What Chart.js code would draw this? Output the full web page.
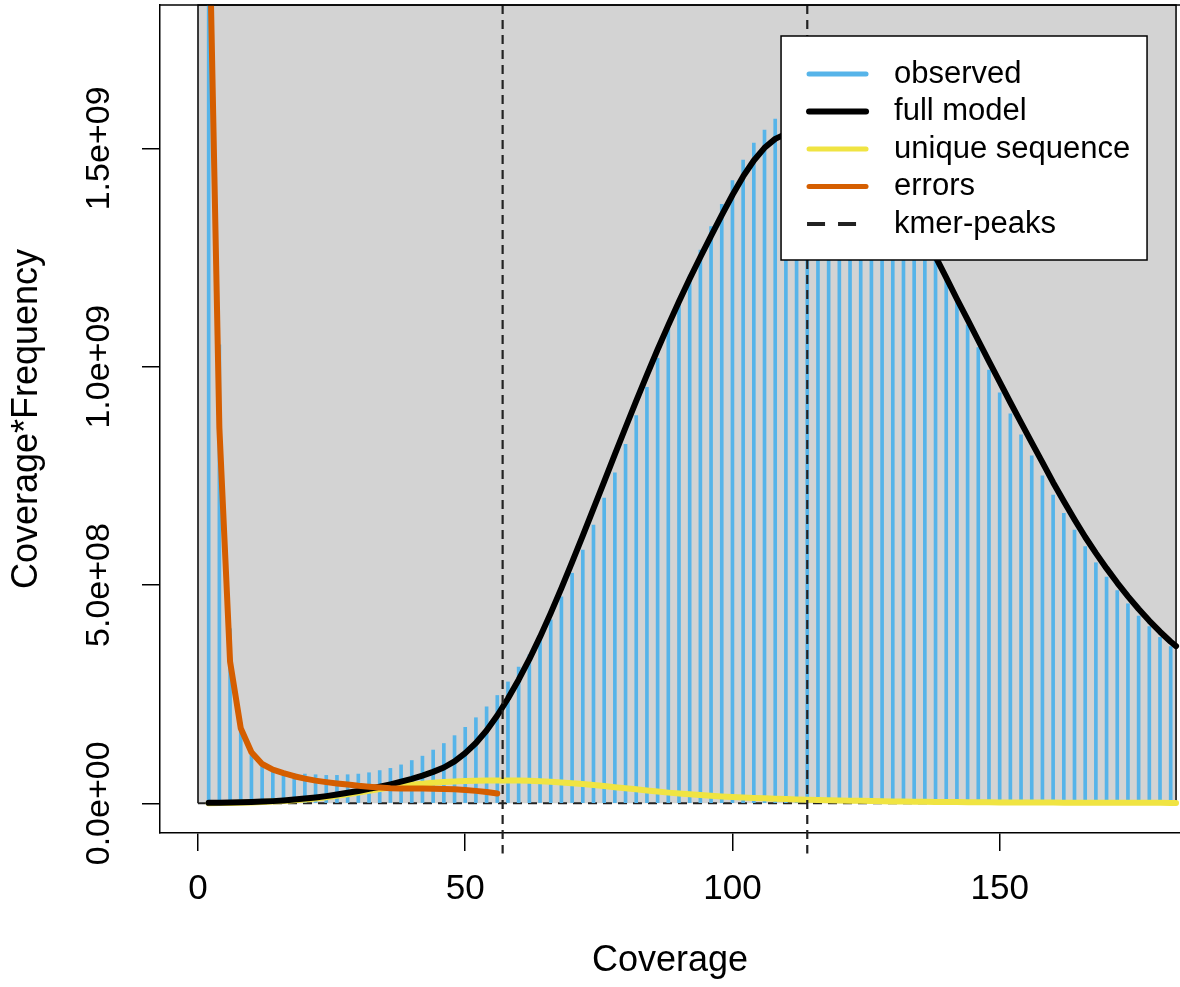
<!DOCTYPE html>
<html>
<head>
<meta charset="utf-8">
<script src="https://cdn.jsdelivr.net/npm/chart.js@4/dist/chart.umd.min.js"></script>
<style>
html,body{margin:0;padding:0;background:#fff;overflow:hidden}
#wrap{width:1180px;height:987px;position:relative}
canvas{display:block}
</style>
</head>
<body>
<div id="wrap"><canvas id="c" width="1180" height="987" style="width:1180px;height:987px"></canvas></div>
<script>
// ---------- data ----------
const coverage = [2,4,6,8,10,12,14,16,18,20,22,24,26,28,30,32,34,36,38,40,42,44,46,48,50,52,54,56,58,60,62,64,66,68,70,72,74,76,78,80,82,84,86,88,90,92,94,96,98,100,102,104,106,108,110,112,114,116,118,120,122,124,126,128,130,132,134,136,138,140,142,144,146,148,150,152,154,156,158,160,162,164,166,168,170,172,174,176,178,180,182];
const observed = [2.5e9,1.05e9,4.0e8,1.85e8,1.10e8,8.4e7,7.3e7,6.9e7,6.8e7,6.7e7,6.55e7,6.4e7,6.4e7,6.55e7,6.7e7,7.0e7,7.5e7,8.0e7,8.8e7,9.8e7,1.08e8,1.22e8,1.37e8,1.55e8,1.74e8,1.96e8,2.21e8,2.47e8,2.78e8,3.12e8,3.40e8,3.74e8,4.20e8,4.73e8,5.27e8,5.80e8,6.37e8,6.99e8,7.57e8,8.22e8,8.88e8,9.53e8,1.019e9,1.086e9,1.149e9,1.210e9,1.267e9,1.321e9,1.372e9,1.426e9,1.473e9,1.512e9,1.542e9,1.567e9,1.575e9,1.578e9,1.575e9,1.570e9,1.560e9,1.545e9,1.525e9,1.502e9,1.475e9,1.445e9,1.412e9,1.377e9,1.340e9,1.300e9,1.255e9,1.199e9,1.149e9,1.096e9,1.044e9,9.92e8,9.40e8,8.92e8,8.44e8,7.96e8,7.50e8,7.06e8,6.64e8,6.26e8,5.88e8,5.51e8,5.18e8,4.87e8,4.57e8,4.29e8,4.05e8,3.80e8,3.59e8];

const modelCoverage = [2,4,6,8,10,12,14,16,18,20,22,24,26,28,30,32,34,36,38,40,42,44,46,48,50,52,54,56,58,60,62,64,66,68,70,72,74,76,78,80,82,84,86,88,90,92,94,96,98,100,102,104,106,108,110,112,114,116,118,120,122,124,126,128,130,132,134,136,138,140,142,144,146,148,150,152,154,156,158,160,162,164,166,168,170,172,174,176,178,180,182,183];
const fullModel = [1.0e6,1.5e6,2.0e6,2.5e6,3.0e6,4.0e6,5.0e6,6.5e6,8.5e6,1.1e7,1.35e7,1.65e7,2.0e7,2.4e7,2.8e7,3.3e7,3.8e7,4.35e7,4.95e7,5.6e7,6.35e7,7.2e7,8.2e7,9.6e7,1.15e8,1.38e8,1.666e8,2.011e8,2.401e8,2.831e8,3.301e8,3.811e8,4.356e8,4.929e8,5.524e8,6.133e8,6.75e8,7.37e8,7.99e8,8.607e8,9.216e8,9.813e8,1.0393e9,1.0953e9,1.1493e9,1.2013e9,1.2513e9,1.2998e9,1.3473e9,1.3933e9,1.4358e9,1.4723e9,1.5013e9,1.5218e9,1.5333e9,1.5368e9,1.5353e9,1.5303e9,1.5218e9,1.5100e9,1.4948e9,1.4763e9,1.4544e9,1.4291e9,1.4004e9,1.3684e9,1.3329e9,1.2942e9,1.2520e9,1.2040e9,1.1550e9,1.108e9,1.060e9,1.012e9,9.65e8,9.18e8,8.72e8,8.26e8,7.81e8,7.35e8,6.92e8,6.50e8,6.10e8,5.73e8,5.38e8,5.05e8,4.74e8,4.45e8,4.18e8,3.93e8,3.70e8,3.60e8];
const uniqueSequence = [2e5,5e5,9e5,1.4e6,2.1e6,3.0e6,4.0e6,5.2e6,6.8e6,8.6e6,1.1e7,1.4e7,1.7e7,2.05e7,2.45e7,2.85e7,3.25e7,3.6e7,3.95e7,4.25e7,4.5e7,4.7e7,4.88e7,5.0e7,5.1e7,5.18e7,5.22e7,5.25e7,5.25e7,5.22e7,5.15e7,5.05e7,4.93e7,4.78e7,4.6e7,4.4e7,4.18e7,3.95e7,3.7e7,3.45e7,3.2e7,2.95e7,2.7e7,2.45e7,2.25e7,2.05e7,1.88e7,1.72e7,1.58e7,1.45e7,1.34e7,1.24e7,1.15e7,1.06e7,9.8e6,9.0e6,8.3e6,7.7e6,7.1e6,6.6e6,6.1e6,5.6e6,5.2e6,4.8e6,4.4e6,4.1e6,3.8e6,3.5e6,3.2e6,3.0e6,2.8e6,2.6e6,2.4e6,2.2e6,2.1e6,2.0e6,1.9e6,1.8e6,1.7e6,1.6e6,1.5e6,1.4e6,1.35e6,1.3e6,1.25e6,1.2e6,1.15e6,1.1e6,1.05e6,1.0e6,9.5e5,9.3e5];

const errorCoverage = [2,4,6,8,10,12,14,16,18,20,22,24,26,28,30,32,34,36,38,40,42,44,46,48,50,52,54,56];
const errors = [2.1e9,8.6e8,3.25e8,1.72e8,1.17e8,9.0e7,7.7e7,6.9e7,6.2e7,5.65e7,5.2e7,4.85e7,4.55e7,4.3e7,4.0e7,3.8e7,3.6e7,3.45e7,3.4e7,3.4e7,3.4e7,3.35e7,3.3e7,3.2e7,3.05e7,2.85e7,2.6e7,2.25e7];

const kmerPeaks = [57, 114];
const peakLineSpan = [-1.15e8, 1.8284e9];

const xTicks = [0, 50, 100, 150];
const yTicks = [0, 5e8, 1e9, 1.5e9];
const yTickLabels = ["0.0e+00", "5.0e+08", "1.0e+09", "1.5e+09"];
const xLimits = [-7.108, 183.74];
const yLimits = [-6.8e7, 1.8284e9];
const coverageMax = 183;

// ---------- styles ----------
const FONT = '"Liberation Sans", Arial, Helvetica, sans-serif';
const BLUE = '#56B4E9', YELLOW = '#F0E442', ORANGE = '#D55E00', BLACK = '#000000';

const pts = (xs, ys) => xs.map((x, i) => ({x: x, y: ys[i]}));
const peakData = [];
kmerPeaks.forEach((p, i) => {
  if (i > 0) peakData.push({x: p, y: null});
  peakData.push({x: p, y: peakLineSpan[1]});
  peakData.push({x: p, y: peakLineSpan[0]});
});

// background plugin: grey panel + dashed zero line
const panelPlugin = {
  id: 'panel',
  beforeDatasetsDraw(chart) {
    const {ctx, chartArea} = chart;
    const xs = chart.scales.x, ys = chart.scales.y;
    const x0 = xs.getPixelForValue(0), x1 = xs.getPixelForValue(coverageMax);
    const y0 = ys.getPixelForValue(0), yt = chartArea.top;
    ctx.save();
    ctx.fillStyle = '#D3D3D3';
    ctx.fillRect(x0, yt, x1 - x0, y0 - yt);
    ctx.strokeStyle = '#000';
    ctx.lineWidth = 1.5;
    ctx.beginPath();
    ctx.moveTo(x0, y0); ctx.lineTo(x0, yt); ctx.lineTo(x1, yt); ctx.lineTo(x1, y0);
    ctx.stroke();
    ctx.setLineDash([9, 6]);
    ctx.strokeStyle = '#222';
    ctx.lineWidth = 2;
    ctx.beginPath();
    ctx.moveTo(x0, y0); ctx.lineTo(x1, y0);
    ctx.stroke();
    ctx.restore();
  },
  afterDraw(chart) {
    const {ctx, chartArea} = chart;
    ctx.save();
    ctx.strokeStyle = '#000';
    ctx.lineWidth = 1.5;
    ctx.beginPath();
    ctx.moveTo(chartArea.left, chartArea.top);
    ctx.lineTo(chartArea.right, chartArea.top);
    ctx.stroke();
    ctx.restore();
  }
};

// legend drawn over the plot, R style
const legendPlugin = {
  id: 'rLegend',
  afterDraw(chart) {
    const {ctx, chartArea} = chart;
    const xs = chart.scales.x;
    const right = xs.getPixelForValue(coverageMax) - 29;
    const top = chartArea.top + 31;
    const w = 366, h = 224;
    const left = right - w;
    ctx.save();
    ctx.fillStyle = '#fff';
    ctx.fillRect(left, top, w, h);
    ctx.strokeStyle = '#000';
    ctx.lineWidth = 1.5;
    ctx.strokeRect(left, top, w, h);
    ctx.font = '31px ' + FONT;
    ctx.textBaseline = 'middle';
    ctx.textAlign = 'left';
    chart.data.datasets.forEach((ds, i) => {
      const y = top + 38 + i * 37.5;
      const color = ds.type === 'bar' ? ds.backgroundColor : ds.borderColor;
      ctx.strokeStyle = color;
      ctx.beginPath();
      if (ds.borderDash) {
        ctx.setLineDash([18, 13]);
        ctx.lineCap = 'butt';
        ctx.lineWidth = 4;
        ctx.moveTo(left + 26, y); ctx.lineTo(left + 76, y);
      } else {
        ctx.setLineDash([]);
        ctx.lineCap = 'round';
        ctx.lineWidth = ds.label === 'full model' ? 6 : 5;
        ctx.moveTo(left + 28, y); ctx.lineTo(left + 85, y);
      }
      ctx.stroke();
      ctx.setLineDash([]);
      ctx.fillStyle = '#000';
      ctx.fillText(ds.label, left + 113, y);
    });
    ctx.restore();
  }
};

const axisGrid = {drawOnChartArea: false, drawTicks: true, tickLength: 18, color: '#000', lineWidth: 1.5, offset: false};
const axisBorder = {display: true, color: '#000', width: 1.5};

new Chart(document.getElementById('c'), {
  type: 'bar',
  data: {
    datasets: [
      {type: 'bar', label: 'observed', data: pts(coverage, observed), backgroundColor: BLUE, borderWidth: 0, barThickness: 3, order: 5, clip: 0},
      {type: 'line', label: 'full model', data: pts(modelCoverage, fullModel), borderColor: BLACK, borderWidth: 6, pointRadius: 0, tension: 0, borderJoinStyle: 'round', borderCapStyle: 'round', order: 3, clip: 0},
      {type: 'line', label: 'unique sequence', data: pts(modelCoverage, uniqueSequence), borderColor: YELLOW, borderWidth: 6, pointRadius: 0, tension: 0, borderJoinStyle: 'round', borderCapStyle: 'round', order: 4, clip: 0},
      {type: 'line', label: 'errors', data: pts(errorCoverage, errors), borderColor: ORANGE, borderWidth: 6, pointRadius: 0, tension: 0, borderJoinStyle: 'round', borderCapStyle: 'round', order: 2, clip: 0},
      {type: 'line', label: 'kmer-peaks', data: peakData, borderColor: '#222', borderWidth: 2.2, borderDash: [9, 6], pointRadius: 0, spanGaps: false, order: 1, clip: false}
    ]
  },
  options: {
    responsive: false,
    devicePixelRatio: 1,
    animation: false,
    events: [],
    layout: {padding: {top: 5, right: 0, bottom: 0, left: 0}},
    plugins: {legend: {display: false}, tooltip: {enabled: false}},
    scales: {
      x: {
        type: 'linear', min: xLimits[0], max: xLimits[1], offset: false,
        afterBuildTicks: s => { s.ticks = xTicks.map(v => ({value: v})); },
        afterFit: s => { s.height = 154; },
        grid: axisGrid, border: axisBorder,
        ticks: {font: {family: FONT, size: 35}, color: '#000', padding: 17, maxRotation: 0, autoSkip: false, callback: v => String(v)},
        title: {display: true, text: 'Coverage', color: '#000', font: {family: FONT, size: 36, lineHeight: 1}, padding: {top: 0, bottom: 8}}
      },
      y: {
        type: 'linear', min: yLimits[0], max: yLimits[1],
        afterBuildTicks: s => { s.ticks = yTicks.map(v => ({value: v})); },
        afterFit: s => { s.width = 160; },
        grid: axisGrid, border: axisBorder,
        ticks: {font: {family: FONT, size: 34}, color: '#000', padding: -20, minRotation: 90, maxRotation: 90, crossAlign: 'center', autoSkip: false,
          callback: v => yTickLabels[yTicks.indexOf(v)]},
        title: {display: true, text: 'Coverage*Frequency', color: '#000', font: {family: FONT, size: 36, lineHeight: 1}, padding: {top: 9, bottom: 0}}
      }
    }
  },
  plugins: [panelPlugin, legendPlugin]
});
</script>
</body>
</html>
